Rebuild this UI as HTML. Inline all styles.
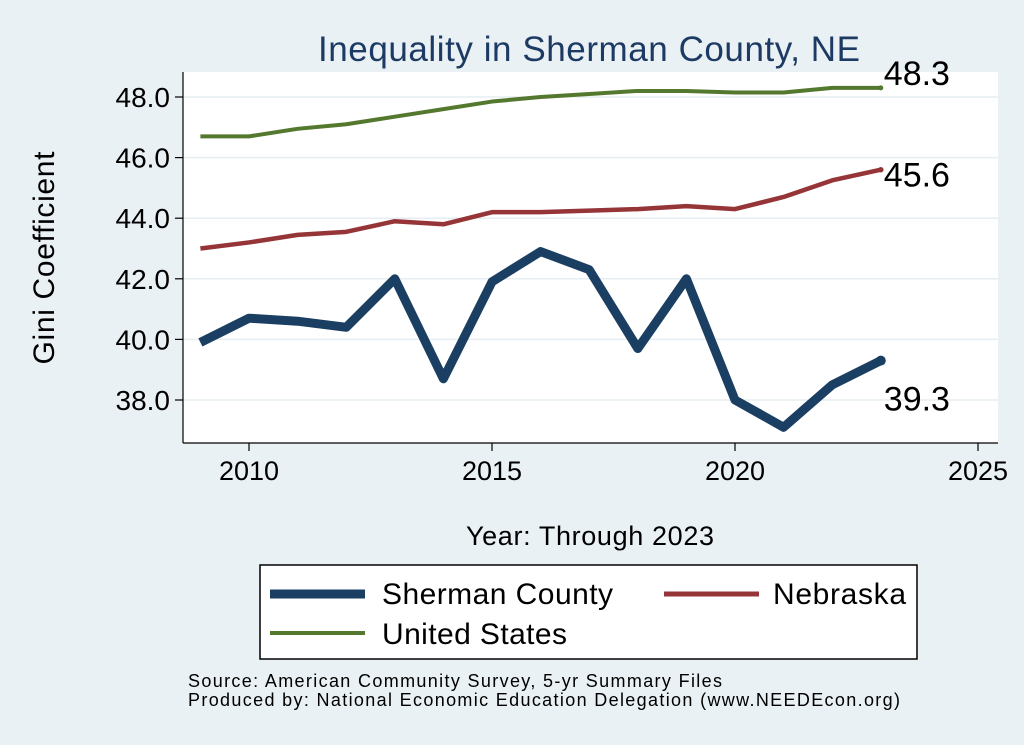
<!DOCTYPE html>
<html><head><meta charset="utf-8"><style>
body{margin:0;background:#eaf1f4;}
svg{display:block;font-family:"Liberation Sans",Arial,sans-serif;}
</style></head><body>
<svg id="c" width="1024" height="745" viewBox="0 0 1024 745">
<rect x="0" y="0" width="1024" height="745" fill="#eaf1f4"/>
<rect x="183" y="72" width="815" height="371" fill="#ffffff"/>
<text x="589" y="61" font-size="35" fill="#1c3a63" text-anchor="middle" textLength="542">Inequality in Sherman County, NE</text>
<text transform="translate(54,258) rotate(-90)" font-size="30" text-anchor="middle" textLength="213" fill="#000">Gini Coefficient</text>
<text x="590" y="545" font-size="27" text-anchor="middle" textLength="248" fill="#000">Year: Through 2023</text>
<g id="grid"></g><g id="axes"></g><g id="series"></g>
<rect x="260" y="565" width="657" height="94" fill="#fff" stroke="#000" stroke-width="1.5"/>
<g><line x1="270" y1="594" x2="365" y2="594" stroke="#1a3f62" stroke-width="9"/><text x="382" y="604" font-size="30" textLength="231">Sherman County</text></g>
<g><line x1="664" y1="594" x2="759" y2="594" stroke="#963538" stroke-width="5"/><text x="773" y="604" font-size="30" textLength="133">Nebraska</text></g>
<g><line x1="270" y1="633" x2="365" y2="633" stroke="#55782f" stroke-width="4"/><text x="382" y="644" font-size="30" textLength="185">United States</text></g>
<text x="188" y="687" font-size="18" textLength="534">Source: American Community Survey, 5-yr Summary Files</text>
<text x="188" y="706" font-size="18" textLength="712">Produced by: National Economic Education Delegation (www.NEEDEcon.org)</text>
</svg>
<script>
const years=[2009,2010,2011,2012,2013,2014,2015,2016,2017,2018,2019,2020,2021,2022,2023];
const sherman=[39.9,40.7,40.6,40.4,42.0,38.7,41.9,42.9,42.3,39.7,42.0,38.0,37.1,38.5,39.3];
const nebraska=[43.0,43.2,43.45,43.55,43.9,43.8,44.2,44.2,44.25,44.3,44.4,44.3,44.7,45.25,45.6];
const us=[46.7,46.7,46.95,47.1,47.35,47.6,47.85,48.0,48.1,48.2,48.2,48.15,48.15,48.3,48.3];
const yTicks=[38,40,42,44,46,48];
const xTicks=[2010,2015,2020,2025];
const NS="http://www.w3.org/2000/svg";
const xs=v=>249+(v-2010)*48.6;
const ys=v=>400-(v-38)*30.3;
function mk(tag,attrs,parent,txt){const e=document.createElementNS(NS,tag);for(const k in attrs)e.setAttribute(k,attrs[k]);if(txt!==undefined)e.textContent=txt;parent.appendChild(e);return e;}
const grid=document.getElementById('grid'),axes=document.getElementById('axes'),ser=document.getElementById('series');
yTicks.forEach(t=>{
 const g=mk('line',{x1:183,x2:998,y1:ys(t),y2:ys(t),stroke:'#e6eef1','stroke-width':1.5},grid);
 
 
 mk('line',{x1:175,x2:183,y1:ys(t),y2:ys(t),stroke:'#000','stroke-width':1.2},axes);
 const l=mk('text',{x:170,y:ys(t)+10,'font-size':28,'text-anchor':'end'},axes,t.toFixed(1));
 
 
});
mk('line',{x1:183,x2:183,y1:72,y2:443,stroke:'#000','stroke-width':1.2},axes);
mk('line',{x1:183,x2:998,y1:443,y2:443,stroke:'#000','stroke-width':1.2},axes);
xTicks.forEach(t=>{
 mk('line',{x1:xs(t),x2:xs(t),y1:443,y2:451,stroke:'#000','stroke-width':1.2},axes);
 const l=mk('text',{x:xs(t),y:480,'font-size':27,'text-anchor':'middle'},axes,String(t));
 
 
});
function line(vals,color,w,name){
 const p=mk('polyline',{points:vals.map((v,i)=>xs(years[i])+','+ys(v)).join(' '),fill:'none',stroke:color,'stroke-width':w,'stroke-linejoin':'round'},ser);
 
 
 const last=vals[vals.length-1];
 mk('circle',{cx:xs(years[years.length-1]),cy:ys(last),r:w/2+0.5,fill:color},ser);
 const l=mk('text',{x:xs(years[years.length-1])+3,y:0,'font-size':34},ser,last.toFixed(1));
 
 
 return l;
}
line(us,'#55782f',4,'us-line').setAttribute('y',ys(us[us.length-1])-3);
line(nebraska,'#963538',4.5,'nebraska-line').setAttribute('y',ys(nebraska[nebraska.length-1])+17);
line(sherman,'#1a3f62',9,'sherman-line').setAttribute('y',ys(sherman[sherman.length-1])+50);
</script>
</body></html>
